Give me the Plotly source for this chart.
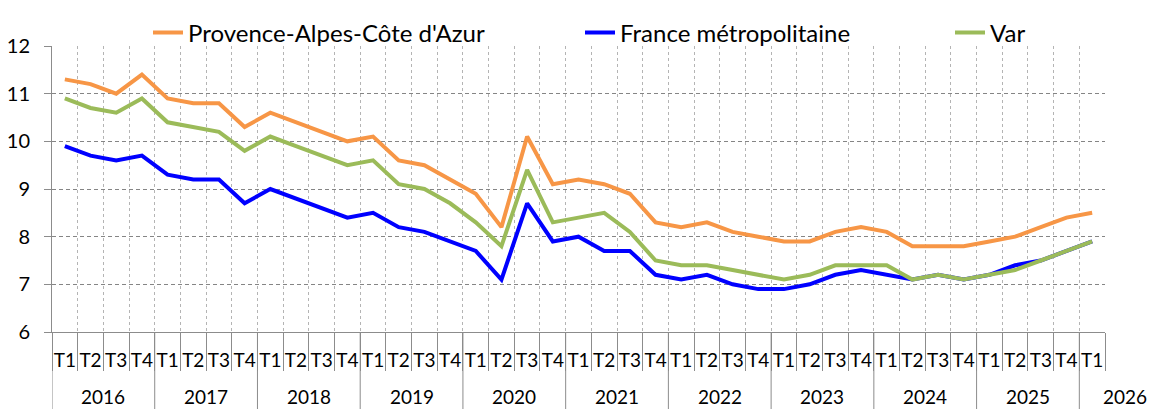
import plotly.graph_objects as go

# ─── Data ────────────────────────────────────────────────────────────────────

years = ["2016", "2017", "2018", "2019", "2020", "2021", "2022", "2023", "2024", "2025", "2026"]
quarters = ["T1", "T2", "T3", "T4"]
n_quarters_last_year = 1

paca = [11.3, 11.2, 11.0, 11.4, 10.9, 10.8, 10.8, 10.3, 10.6, 10.4, 10.2, 10.0,
        10.1, 9.6, 9.5, 9.2, 8.9, 8.2, 10.1, 9.1, 9.2, 9.1, 8.9, 8.3,
        8.2, 8.3, 8.1, 8.0, 7.9, 7.9, 8.1, 8.2, 8.1, 7.8, 7.8, 7.8,
        7.9, 8.0, 8.2, 8.4, 8.5]
france = [9.9, 9.7, 9.6, 9.7, 9.3, 9.2, 9.2, 8.7, 9.0, 8.8, 8.6, 8.4,
          8.5, 8.2, 8.1, 7.9, 7.7, 7.1, 8.7, 7.9, 8.0, 7.7, 7.7, 7.2,
          7.1, 7.2, 7.0, 6.9, 6.9, 7.0, 7.2, 7.3, 7.2, 7.1, 7.2, 7.1,
          7.2, 7.4, 7.5, 7.7, 7.9]
var = [10.9, 10.7, 10.6, 10.9, 10.4, 10.3, 10.2, 9.8, 10.1, 9.9, 9.7, 9.5,
       9.6, 9.1, 9.0, 8.7, 8.3, 7.8, 9.4, 8.3, 8.4, 8.5, 8.1, 7.5,
       7.4, 7.4, 7.3, 7.2, 7.1, 7.2, 7.4, 7.4, 7.4, 7.1, 7.2, 7.1,
       7.2, 7.3, 7.5, 7.7, 7.9]

# ─── Theme ───────────────────────────────────────────────────────────────────

ORANGE = "#F79646"
BLUE = "#0000FF"
GREEN = "#9BBB59"
AXIS_GREY = "#8C8C8C"
FONT = "Lato, Carlito, Calibri, sans-serif"

# the page body adds 8px around the figure, so margins are 8px smaller
FIG_W, FIG_H = 1149, 401
PLOT_W, PLOT_H = 1053, 286
M_L, M_T = 44, 38

tick_labels = []
for y in years[:-1]:
    tick_labels += quarters
tick_labels += quarters[:n_quarters_last_year]
x = list(range(len(tick_labels)))
boundaries = [i - 0.5 for i in range(len(x) + 1)]

fig = go.Figure()
series = [
    ("Provence-Alpes-Côte d'Azur", paca, ORANGE, "legend"),
    ("France métropolitaine", france, BLUE, "legend2"),
    ("Var", var, GREEN, "legend3"),
]
for name, vals, color, leg in series:
    fig.add_trace(go.Scatter(
        x=x, y=vals, name=name, mode="lines", legend=leg,
        line=dict(color=color, width=4),
    ))

# year separators and labels under the quarter row
# (labels in paper coords so the lone 2026 label can sit past the axis end)
for k, yr in enumerate(years):
    start = 4 * k
    fig.add_shape(type="line", xref="x", yref="paper",
                  x0=start - 0.5, x1=start - 0.5, y0=0, y1=-0.27,
                  line=dict(color=AXIS_GREY, width=1))
    past_end = start + 4 > len(x)
    fig.add_annotation(x=(start + 2) / len(x), y=-0.227, xref="paper", yref="paper",
                       text=yr, showarrow=False, yanchor="middle", xanchor="center",
                       xshift=-6 if past_end else 0,
                       font=dict(family=FONT, size=19, color="black"))

# legends above the plot, in paper coordinates
leg_y = (PLOT_H + 13) / PLOT_H
leg_common = dict(orientation="h", yanchor="middle", xanchor="left", y=leg_y,
                  bgcolor="rgba(0,0,0,0)", borderwidth=0,
                  font=dict(family=FONT, size=24, color="black"))
fig.update_layout(
    width=FIG_W, height=FIG_H,
    paper_bgcolor="white", plot_bgcolor="white",
    margin=dict(l=M_L, r=FIG_W - M_L - PLOT_W, t=M_T, b=FIG_H - M_T - PLOT_H, autoexpand=False),
    font=dict(family=FONT, size=18, color="black"),
    showlegend=True,
    legend=dict(x=(148 - 52) / PLOT_W, **leg_common),
    legend2=dict(x=(580 - 52) / PLOT_W, **leg_common),
    legend3=dict(x=(950 - 52) / PLOT_W, **leg_common),
    xaxis=dict(
        range=[-0.5, len(x) - 0.5],
        tickmode="array", tickvals=x, ticktext=tick_labels,
        showgrid=False, ticks="", ticklabelstandoff=11,
        showline=True, linecolor=AXIS_GREY, linewidth=1,
        zeroline=False, automargin=False,
        minor=dict(tickmode="array", tickvals=boundaries, ticks="outside",
                   ticklen=38, tickcolor=AXIS_GREY, tickwidth=1,
                   showgrid=True, gridcolor="#B4B4B4", griddash="dot", gridwidth=1),
        tickfont=dict(family=FONT, size=19, color="black"),
    ),
    yaxis=dict(
        range=[6, 12], dtick=1, tickmode="linear", tick0=6,
        showgrid=True, gridcolor="#858585", griddash="4px,3px", gridwidth=1,
        ticks="outside", ticklen=7, tickcolor=AXIS_GREY,
        showline=True, linecolor=AXIS_GREY, linewidth=1,
        zeroline=False, ticklabelstandoff=10, automargin=False,
        tickfont=dict(family=FONT, size=20, color="black"),
    ),
)

fig.write_html("out.html")
